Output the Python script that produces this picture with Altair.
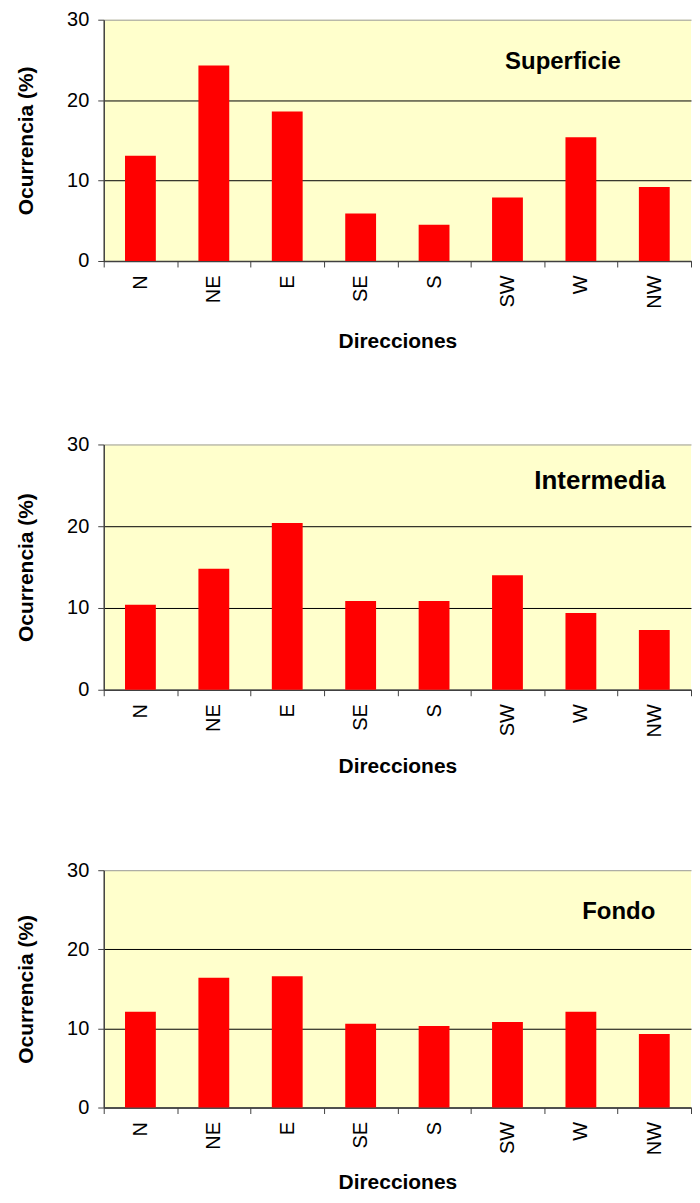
import altair as alt
import pandas as pd

directions = ["N", "NE", "E", "SE", "S", "SW", "W", "NW"]
superficie = [13.1, 24.3, 18.6, 5.9, 4.5, 7.9, 15.4, 9.2]
intermedia = [10.4, 14.8, 20.4, 10.85, 10.85, 14.0, 9.4, 7.3]
fondo = [12.1, 16.4, 16.6, 10.6, 10.3, 10.8, 12.1, 9.3]
panel_titles = ["Superficie", "Intermedia", "Fondo"]
title_dir = ["W", "W", "W"]
title_val = [23.9, 24.6, 23.8]
y_ticks = [0, 10, 20, 30]

FONT = "Liberation Sans"
WIDTH = 589


def panel(values, title, tdir, tval, fsize, dx, height, title_pad):
    df = pd.DataFrame({"dir": directions, "val": values})
    tdf = pd.DataFrame({"dir": [tdir], "val": [tval], "label": [title]})
    x_enc = alt.X(
        "dir:N", sort=directions,
        scale=alt.Scale(paddingInner=0, paddingOuter=0),
        axis=alt.Axis(
            title="Direcciones", labelAngle=270, tickBand="extent",
            labelFontSize=20, labelFont=FONT, labelColor="black",
            labelPadding=8, tickSize=6, tickColor="#404040",
            domainColor="#404040", domainWidth=1.5,
            titleFontSize=21, titleFont=FONT, titleFontWeight="bold",
            titleColor="black", titlePadding=title_pad, grid=False,
        ),
    )
    y_enc = alt.Y(
        "val:Q", scale=alt.Scale(domain=[0, 30], nice=False),
        axis=alt.Axis(
            values=y_ticks, title="Ocurrencia (%)",
            labelFontSize=20, labelFont=FONT, labelColor="black",
            labelPadding=9, tickSize=6, tickColor="#404040",
            domainColor="#404040", domainWidth=1.5,
            titleFontSize=21, titleFont=FONT, titleFontWeight="bold",
            titleColor="black", titlePadding=30,
            grid=True,
            gridColor={"condition": {"test": "datum.value >= 30", "value": "#999999"},
                       "value": "#000000"},
            gridWidth=1,
        ),
    )
    bars = alt.Chart(df).mark_bar(
        color="#FF0000", width=alt.RelativeBandSize(0.42)
    ).encode(x=x_enc, y=y_enc)
    label = alt.Chart(tdf).mark_text(
        font=FONT, fontSize=fsize, fontWeight="bold", color="black",
        align="center", baseline="alphabetic", dx=dx,
    ).encode(x=alt.X("dir:N", sort=directions), y=alt.Y("val:Q"), text="label:N")
    return alt.layer(bars, label).properties(width=WIDTH, height=height)


p1 = panel(superficie, panel_titles[0], title_dir[0], title_val[0], 24, -18, 242, 22)
p2 = panel(intermedia, panel_titles[1], title_dir[1], title_val[1], 26, 19, 246, 19)
p3 = panel(fondo, panel_titles[2], title_dir[2], title_val[2], 24, 38, 238, 17)

chart = (
    alt.vconcat(p1, p2, p3, spacing=83)
    .properties(padding={"top": 0, "left": 7, "right": 0, "bottom": 0})
    .configure_view(fill="#FFFFCC", stroke="transparent", strokeWidth=0)
)

chart.save("out.html", embed_options={"renderer": "svg", "actions": False})
